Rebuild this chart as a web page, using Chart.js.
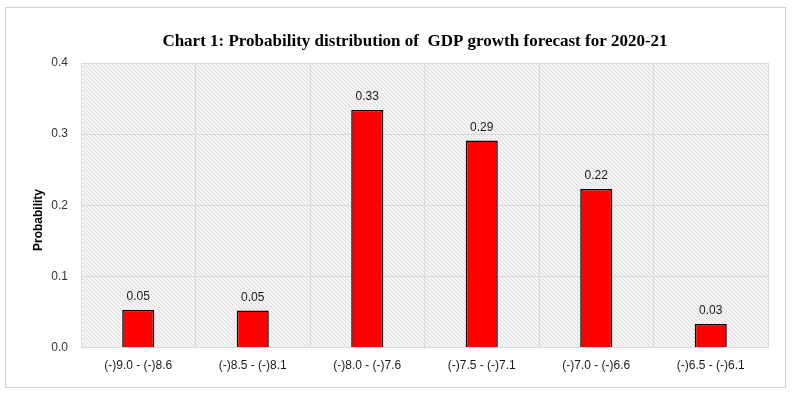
<!DOCTYPE html>
<html>
<head>
<meta charset="utf-8">
<script src="https://cdn.jsdelivr.net/npm/chart.js@4"></script>
<style>
html,body{margin:0;padding:0;background:#fff;}
#wrap{width:792px;height:394px;position:relative;}
</style>
</head>
<body>
<div id="wrap"><canvas id="c" width="792" height="394"></canvas></div>
<script>
const categories = ["(-)9.0 - (-)8.6","(-)8.5 - (-)8.1","(-)8.0 - (-)7.6","(-)7.5 - (-)7.1","(-)7.0 - (-)6.6","(-)6.5 - (-)6.1"];
const probability = [0.053, 0.052, 0.334, 0.291, 0.223, 0.033];
const yTicks = [0.0, 0.1, 0.2, 0.3, 0.4];
const titleText = "Chart 1: Probability distribution of  GDP growth forecast for 2020-21";
const yTitle = "Probability";

function makePattern(ctx){
  const n = 4;
  const p = document.createElement('canvas');
  p.width = n; p.height = n;
  const g = p.getContext('2d');
  g.fillStyle = '#f4f4f4';
  g.fillRect(0,0,n,n);
  g.fillStyle = '#dcdcdc';
  for (let i=0;i<n;i++){ g.fillRect(i, i, 1, 1); }
  return ctx.createPattern(p,'repeat');
}

const bgPlugin = {
  id:'bg',
  beforeDraw(chart){
    const ctx = chart.ctx;
    ctx.save();
    ctx.fillStyle = '#fff';
    ctx.fillRect(0,0,chart.width,chart.height);
    ctx.strokeStyle = '#d0d0d0';
    ctx.lineWidth = 1;
    ctx.strokeRect(5.5, 7.5, 780, 380);
    const a = chart.chartArea;
    ctx.fillStyle = makePattern(ctx);
    ctx.fillRect(a.left, a.top, a.right-a.left, a.bottom-a.top);
    // chart title
    ctx.fillStyle = '#000';
    ctx.font = 'bold 17px "Liberation Serif", "DejaVu Serif", serif';
    ctx.textAlign = 'center';
    ctx.textBaseline = 'middle';
    ctx.fillText(titleText, 415, 42);
    // y axis title
    ctx.translate(39, 220);
    ctx.rotate(-Math.PI/2);
    ctx.font = 'bold 12px "Liberation Sans", Arial, sans-serif';
    ctx.fillText(yTitle, 0, 0);
    ctx.restore();
  }
};

const labelPlugin = {
  id:'vlabels',
  afterDatasetsDraw(chart){
    const ctx = chart.ctx;
    const meta = chart.getDatasetMeta(0);
    ctx.save();
    ctx.font = '12px "Liberation Sans", Arial, sans-serif';
    ctx.fillStyle = '#1a1a1a';
    ctx.textAlign = 'center';
    ctx.textBaseline = 'middle';
    meta.data.forEach((el,i)=>{
      ctx.fillText(probability[i].toFixed(2), el.x, el.y - 13);
    });
    ctx.restore();
  }
};

new Chart(document.getElementById('c'), {
  type:'bar',
  data:{
    labels: categories,
    datasets:[{
      label: yTitle,
      data: probability,
      backgroundColor:'#ff0000',
      borderColor:'#000000',
      borderWidth:1.5,
      barPercentage:0.28,
      categoryPercentage:1.0
    }]
  },
  options:{
    responsive:false,
    animation:false,
    devicePixelRatio:1,
    layout:{padding:{left:0,right:24,top:63,bottom:10}},
    plugins:{
      legend:{display:false},
      tooltip:{enabled:false},
      title:{display:false}
    },
    scales:{
      x:{
        grid:{color:'#d9d9d9', offset:true, drawTicks:false},
        border:{color:'#d9d9d9'},
        ticks:{color:'#1a1a1a', padding:11, font:{family:'"Liberation Sans", Arial, sans-serif', size:12}, maxRotation:0}
      },
      y:{
        min:0, max:0.4,
        afterFit(s){ s.width = 81; },
        afterBuildTicks(s){ s.ticks = yTicks.map(v=>({value:v})); },
        grid:{color:'#d9d9d9', drawTicks:false},
        border:{display:false},
        ticks:{color:'#333', padding:13, font:{family:'"Liberation Sans", Arial, sans-serif', size:12},
          callback:(v)=>Number(v).toFixed(1)},
        title:{display:false}
      }
    }
  },
  plugins:[bgPlugin, labelPlugin]
});
</script>
</body>
</html>
